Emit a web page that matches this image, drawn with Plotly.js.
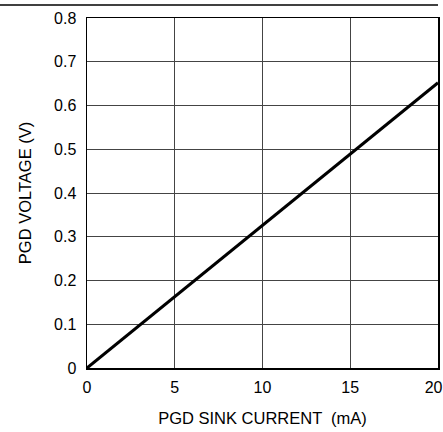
<!DOCTYPE html>
<html>
<head>
<meta charset="utf-8">
<script src="https://cdn.plot.ly/plotly-3.0.1.min.js"></script>
<style>html,body{margin:0;padding:0;background:#fff;}#chart{width:443px;height:432px;}</style>
</head>
<body>
<div id="chart"></div>
<script>
var sinkCurrent = [0, 5, 10, 15, 20];
var pgdVoltage = [0, 0.163, 0.326, 0.490, 0.652];
var xTicks = [0, 5, 10, 15, 20];
var xTickLabels = ['0', '5', '10', '15', '20\u00a0\u00a0'];
var yTicks = [0, 0.1, 0.2, 0.3, 0.4, 0.5, 0.6, 0.7, 0.8];
var yTickLabels = ['0', '0.1', '0.2', '0.3', '0.4', '0.5', '0.6', '0.7', '0.8'];

var trace = {
  x: sinkCurrent,
  y: pgdVoltage,
  mode: 'lines',
  line: {color: '#000', width: 3},
  hoverinfo: 'none'
};

var fam = 'Liberation Sans, Arial, sans-serif';
var tickFont = {family: fam, size: 16, color: '#000'};
var titleFont = {family: fam, size: 16.5, color: '#000'};

var layout = {
  width: 443, height: 432,
  margin: {l: 87, r: 5, t: 18, b: 64},
  paper_bgcolor: '#fff', plot_bgcolor: '#fff',
  showlegend: false,
  font: tickFont,
  xaxis: {
    range: [0, 20], tickvals: xTicks, ticktext: xTickLabels,
    showgrid: true, gridcolor: '#444', gridwidth: 1,
    showline: true, linecolor: '#000', linewidth: 1.5, mirror: true,
    zeroline: false, ticks: '', ticklabelstandoff: 4,
    ticklabeloverflow: 'allow',
    tickfont: tickFont,
    title: {text: 'PGD SINK CURRENT \u00a0(mA)', font: titleFont, standoff: 17}
  },
  yaxis: {
    range: [0, 0.8], tickvals: yTicks, ticktext: yTickLabels,
    showgrid: true, gridcolor: '#444', gridwidth: 1,
    showline: true, linecolor: '#000', linewidth: 1.5, mirror: true,
    zeroline: false, ticks: '', ticklabelstandoff: 6,
    ticklabeloverflow: 'allow',
    tickfont: tickFont,
    title: {text: 'PGD VOLTAGE (V)', font: titleFont, standoff: 18}
  },
  shapes: [{
    type: 'line', xref: 'paper', yref: 'paper',
    x0: -87/351, x1: 1, y0: 1 + 13/350, y1: 1 + 13/350,
    line: {color: '#000', width: 1.5}
  }]
};

Plotly.newPlot('chart', [trace], layout, {displayModeBar: false, staticPlot: true});
</script>
</body>
</html>
